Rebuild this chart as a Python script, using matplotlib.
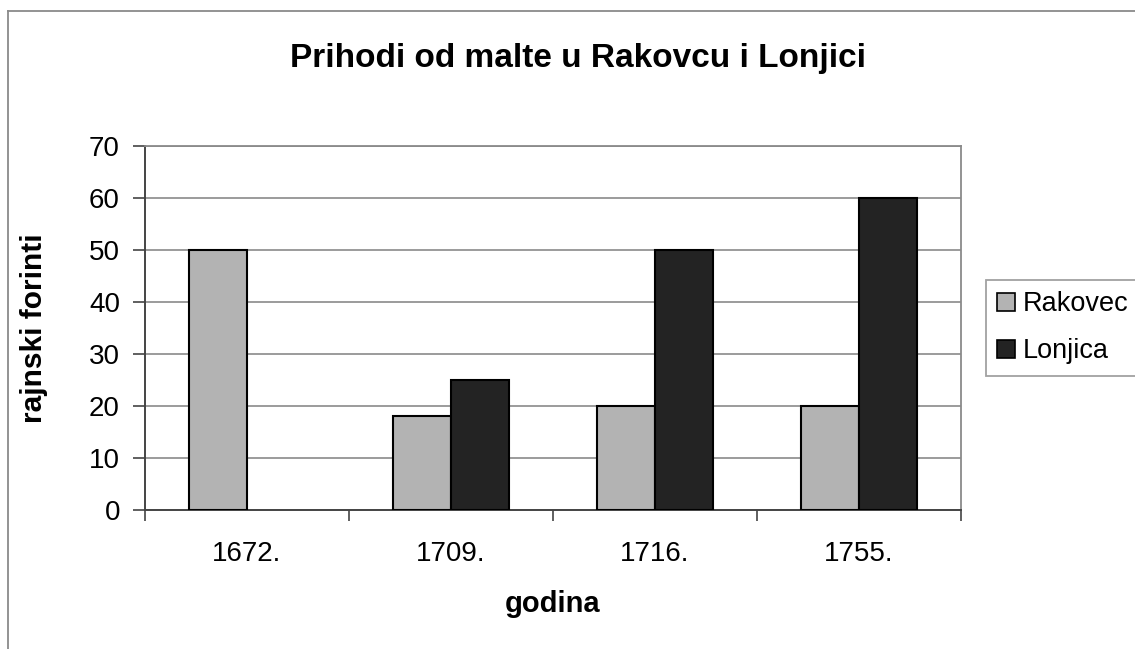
import matplotlib
matplotlib.use("Agg")
import matplotlib.pyplot as plt
from matplotlib.patches import Patch
from matplotlib.lines import Line2D
import numpy as np

categories = ["1672.", "1709.", "1716.", "1755."]
rakovec = [50, 18, 20, 20]
lonjica = [0, 25, 50, 60]
series_names = ["Rakovec", "Lonjica"]
yticks = [0, 10, 20, 30, 40, 50, 60, 70]

plt.rcParams['font.family'] = ['Liberation Sans', 'DejaVu Sans']

W, H = 1135, 649
fig = plt.figure(figsize=(W / 100, H / 100), dpi=100)
fig.patch.set_facecolor('white')

# outer chart border (left and top visible)
fig.add_artist(Line2D([8 / W, 8 / W], [0, 1 - 11 / H], color='#8a8a8a', lw=1.3, transform=fig.transFigure))
fig.add_artist(Line2D([8 / W, 1], [1 - 11 / H, 1 - 11 / H], color='#8a8a8a', lw=1.3, transform=fig.transFigure))

left, right, top, bottom = 145, 961, 146, 510
ax = fig.add_axes([left / W, 1 - bottom / H, (right - left) / W, (bottom - top) / H])

x = np.arange(len(categories))
w = 2 / 7
b1 = ax.bar(x - w / 2, rakovec, width=w, color='#b3b3b3', edgecolor='black', linewidth=1.5, zorder=3)
b2 = ax.bar(x + w / 2, lonjica, width=w, color='#232323', edgecolor='black', linewidth=1.5, zorder=3)
for p in list(b1) + list(b2):
    if p.get_height() == 0:
        p.set_visible(False)

ax.set_xlim(-0.5, len(categories) - 0.5)
ax.set_ylim(0, 70)
ax.set_yticks(yticks)
ax.set_yticklabels([str(v) for v in yticks], fontsize=20)
ax.yaxis.grid(True, color='#8a8a8a', linewidth=1.2, zorder=0)
ax.set_axisbelow(True)

ax.set_xticks(x)
ax.set_xticklabels(categories, fontsize=20)
ax.set_xticks(np.arange(-0.5, len(categories)), minor=True)
ax.tick_params(axis='x', which='major', length=0, pad=22)
ax.tick_params(axis='x', which='minor', length=8, width=1.2, color='#444444', direction='out')
ax.tick_params(axis='y', which='major', length=9, width=1.2, color='#444444', direction='out', pad=9)

for s in ['top', 'right']:
    ax.spines[s].set_color('#8a8a8a')
    ax.spines[s].set_linewidth(1.3)
for s in ['left', 'bottom']:
    ax.spines[s].set_color('#444444')
    ax.spines[s].set_linewidth(1.4)

fig.text(578 / W, 1 - 58 / H, "Prihodi od malte u Rakovcu i Lonjici", fontsize=24,
         fontweight='bold', ha='center', va='center')
fig.text(553 / W, 1 - 604 / H, "godina", fontsize=21, fontweight='bold', ha='center', va='center')
fig.text(34 / W, 1 - 328 / H, "rajnski forinti", fontsize=21.5, fontweight='bold', ha='center',
         va='center', rotation=90)

handles = [Patch(facecolor='#b3b3b3', edgecolor='black', linewidth=1.2),
           Patch(facecolor='#232323', edgecolor='black', linewidth=1.2)]
leg = fig.legend(handles, series_names, loc='upper left', bbox_to_anchor=(986 / W, 1 - 280 / H),
                 fontsize=19.5, frameon=True, fancybox=False, shadow=False, borderaxespad=0,
                 handlelength=0.65, handleheight=0.65, handletextpad=0.3, labelspacing=0.78,
                 borderpad=0.42)
leg.get_frame().set_edgecolor('#8a8a8a')
leg.get_frame().set_linewidth(1.3)

fig.savefig("out.png", dpi=100, facecolor='white')
